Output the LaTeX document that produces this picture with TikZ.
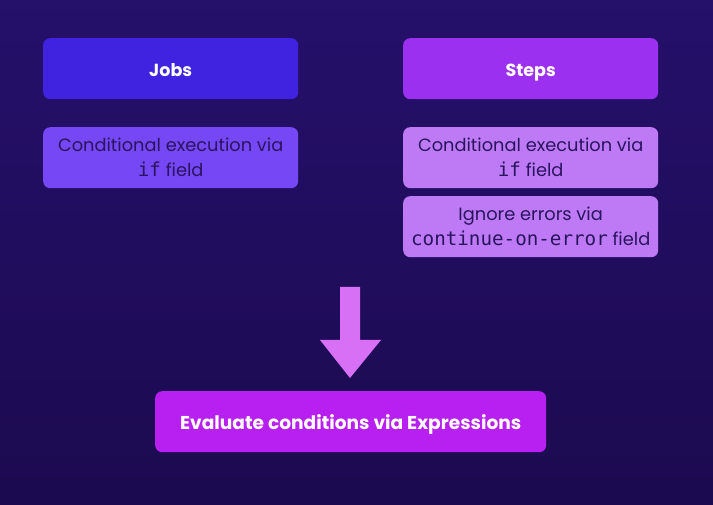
\documentclass[tikz,border=0pt]{standalone}
\usepackage{fontspec}
\setmainfont{Poppins}
\setmonofont[Scale=1.08]{DejaVu Sans Mono}
\usetikzlibrary{positioning}
\definecolor{bgtop}{HTML}{25106A}
\definecolor{bgbot}{HTML}{1C0A50}
\definecolor{jobsc}{HTML}{4023E0}
\definecolor{jobsub}{HTML}{7547F5}
\definecolor{stepsc}{HTML}{9B30F0}
\definecolor{stepsub}{HTML}{BE7AF5}
\definecolor{arrowc}{HTML}{D870F5}
\definecolor{evalc}{HTML}{B720F0}
\definecolor{darktext}{HTML}{2A1460}
\tikzset{
  box/.style={rounded corners=7pt, minimum width=255pt, minimum height=61pt, inner sep=0pt, align=center, anchor=north west},
  headbox/.style={box, text=white, font=\fontsize{17.5}{20}\selectfont\bfseries, text height=15pt, text depth=0pt},
  subbox/.style={box, text=darktext, font=\fontsize{17.8}{25}\selectfont},
}
\begin{document}
\begin{tikzpicture}[x=1pt,y=-1pt]
\shade[top color=bgtop, bottom color=bgbot] (0,0) rectangle (713,505);
\useasboundingbox (0,0) rectangle (713,505);
\node[headbox, fill=jobsc] (jobs) at (43,38) {Jobs};
\node[subbox, fill=jobsub] (jobsif) at (43,127) {Conditional execution via\\\texttt{if} field};
\node[headbox, fill=stepsc] (steps) at (403,38) {Steps};
\node[subbox, fill=stepsub] (stepsif) at (403,127) {Conditional execution via\\\texttt{if} field};
\node[subbox, fill=stepsub] (stepscont) at (403,196) {Ignore errors via\\\texttt{continue-on-error} field};
\node[headbox, fill=evalc, minimum width=391pt, font=\fontsize{18.6}{20}\selectfont\bfseries] (eval) at (155,391) {Evaluate conditions via Expressions};
\coordinate (atop) at (350,287);
\coordinate (atip) at (350,378);
\fill[arrowc] ([xshift=-10pt]atop) -- ([xshift=10pt]atop) -- (360,340) -- (381,340) -- (atip) -- (320,340) -- (340,340) -- cycle;
\end{tikzpicture}
\end{document}
